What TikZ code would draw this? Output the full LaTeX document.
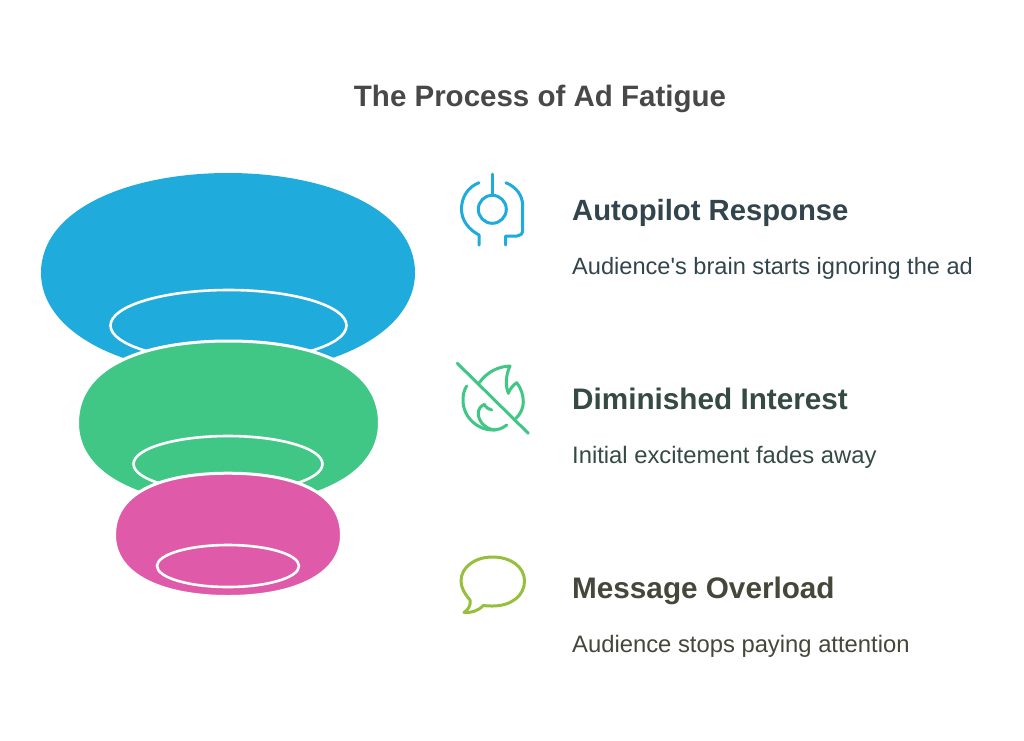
\documentclass[tikz,border=0pt]{standalone}
\usepackage{fontspec}
\setmainfont[Ligatures=TeXOff]{Liberation Sans}
\definecolor{cblue}{HTML}{1FABDB}
\definecolor{cgreen}{HTML}{41C785}
\definecolor{cpink}{HTML}{DF5AA9}
\definecolor{clime}{HTML}{96C03B}
\definecolor{ttitle}{HTML}{484848}
\definecolor{tone}{HTML}{32444C}
\definecolor{ttwo}{HTML}{354A45}
\definecolor{tthree}{HTML}{44473A}
\tikzset{
  titletext/.style={anchor=base,inner sep=0pt,text=ttitle,font=\fontsize{29.5}{36}\selectfont\bfseries},
  headtext/.style={anchor=base west,inner sep=0pt,font=\fontsize{29.25}{36}\selectfont\bfseries},
  headwide/.style={anchor=base west,inner sep=0pt,font=\fontsize{29.7}{36}\selectfont\bfseries},
  bodytext/.style={anchor=base west,inner sep=0pt,font=\fontsize{23.6}{28}\selectfont},
  bodywide/.style={anchor=base west,inner sep=0pt,font=\fontsize{23.8}{28}\selectfont},
  ring/.style={draw=white,line width=2.6pt},
  blob/.style={draw=white,line width=3pt},
  icon/.style={line width=3pt,line cap=round,line join=round},
}
\begin{document}
\begin{tikzpicture}[x=1pt,y=-1pt]
\useasboundingbox (0,0) rectangle (1024,740);
\fill[white] (0,0) rectangle (1024,740);
% funnel
\fill[cblue] (228,173) .. controls (325,173) and (415,208) .. (415,273)
  .. controls (415,330) and (337,374) .. (228,374)
  .. controls (119,374) and (41,330) .. (41,273)
  .. controls (41,208) and (131,173) .. (228,173) -- cycle;
\draw[ring] (228.5,325.5) ellipse [x radius=118,y radius=35.5];
\path[blob,fill=cgreen] (228.5,341) .. controls (305,341) and (379.5,362) .. (379.5,423)
  .. controls (379.5,478) and (310,506) .. (228.5,506)
  .. controls (147,506) and (77.5,478) .. (77.5,423)
  .. controls (77.5,362) and (152,341) .. (228.5,341) -- cycle;
\draw[ring] (228,464) ellipse [x radius=94.5,y radius=28];
\path[blob,fill=cpink] (228,473.2) .. controls (290,473.2) and (341.5,490) .. (341.5,535)
  .. controls (341.5,577) and (290,596.5) .. (228,596.5)
  .. controls (166,596.5) and (114.5,577) .. (114.5,535)
  .. controls (114.5,490) and (166,473.2) .. (228,473.2) -- cycle;
\draw[ring] (228,566) ellipse [x radius=71,y radius=21];
% icon 1
\begin{scope}[icon,draw=cblue]
\draw (492.3,174) -- (492.3,195);
\draw (492.3,209.3) circle [radius=14];
\draw (479,182.7) .. controls (468,187) and (461.5,197) .. (461.5,209)
  .. controls (461.5,220) and (468,229) .. (479,235) -- (479,245);
\draw (506,182.7) .. controls (516,187) and (522.7,195) .. (522.7,206) -- (522.7,230)
  .. controls (522.7,234) and (520,236) .. (517,236) -- (505.7,236) -- (505.7,245);
\end{scope}
% icon 2
\begin{scope}[icon,draw=cgreen]
\draw (457.3,363.3) -- (528.3,433.3);
\draw (479.3,382.7) .. controls (487,372) and (498,366.5) .. (510,366)
  .. controls (506,375) and (505,384) .. (508.3,393.3)
  .. controls (510,389) and (513,385) .. (516.7,382.7)
  .. controls (521,388) and (523.3,395) .. (523.3,402)
  .. controls (523.3,408) and (520.5,414) .. (516,418.3);
\draw (466.7,386) .. controls (464,390) and (463,395) .. (463,400)
  .. controls (463,417) and (477,430) .. (493,430)
  .. controls (498,430) and (503,428) .. (506.7,425);
\draw (491.7,410) .. controls (488.5,409.5) and (486,407.5) .. (484.3,404.3)
  .. controls (480,406.5) and (478.3,409.5) .. (478.3,413.5)
  .. controls (478.3,421) and (485,429) .. (495,430);
\end{scope}
% icon 3
\draw[icon,draw=clime] (470,600) .. controls (464,593) and (461,587) .. (461,581)
  .. controls (461,567) and (475,557) .. (492.5,557)
  .. controls (511,557) and (524.5,567) .. (524.5,581)
  .. controls (524.5,596) and (511,606) .. (492.5,606)
  .. controls (489,606) and (486,606) .. (483.3,605.5)
  .. controls (478,611) and (471,613) .. (464,612.5)
  .. controls (468,609.5) and (471,606) .. (470,600) -- cycle;
% text
\node[titletext] (title) at (540,106) {The Process of Ad Fatigue};
\node[headtext,text=tone] (h1) at (572,220) {Autopilot Response};
\node[bodytext,text=tone] (b1) at (572,274) {Audience's brain starts ignoring the ad};
\node[headwide,text=ttwo] (h2) at (572,409) {Diminished Interest};
\node[bodywide,text=ttwo] (b2) at (572,463) {Initial excitement fades away};
\node[headwide,text=tthree] (h3) at (572,598) {Message Overload};
\node[bodywide,text=tthree] (b3) at (572,652) {Audience stops paying attention};
\end{tikzpicture}
\end{document}
